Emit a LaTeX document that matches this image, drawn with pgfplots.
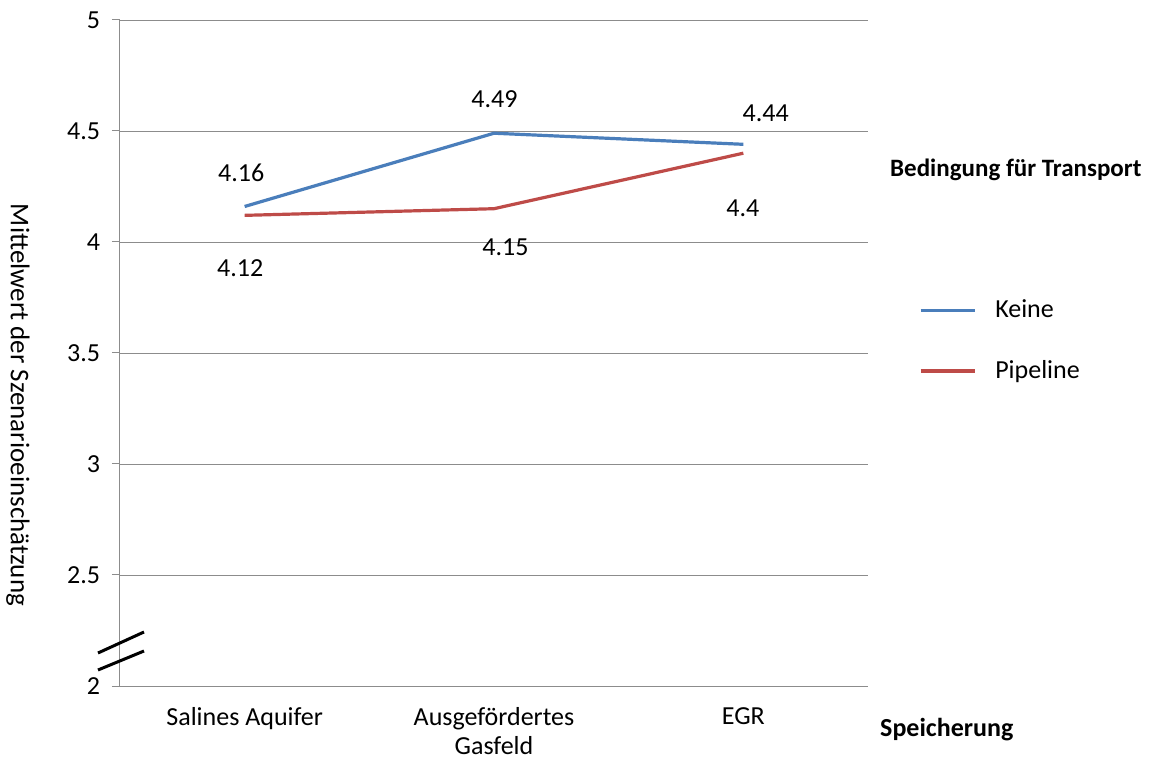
\documentclass[border=0pt]{standalone}
\usepackage{fontspec}
\setmainfont{Carlito}
\usepackage{pgfplots}
\pgfplotsset{compat=1.18}
\definecolor{keine}{RGB}{74,126,187}
\definecolor{pipe}{RGB}{190,75,72}
\definecolor{gridc}{RGB}{140,140,140}
\begin{document}
\begin{tikzpicture}
\fontsize{26}{30}\selectfont
\begin{axis}[
    at={(0,0)}, anchor=south west,
    scale only axis, width=748pt, height=666pt,
    xmin=0, xmax=3, ymin=2, ymax=5,
    axis lines=left, axis line style={-, draw=gridc, line width=1pt},
    xtick={0.5,1.5,2.5},
    xticklabels={Salines Aquifer, {Ausgefördertes\\Gasfeld}, EGR},
    xticklabel style={align=center, yshift=-5pt},
    major x tick style={draw=none},
    extra x ticks={0,1,2,3}, extra x tick labels={},
    extra x tick style={major tick length=8pt, major tick style={draw=gridc, line width=1pt}},
    ytick={2,2.5,...,5},
    ymajorgrids, grid style={draw=gridc, line width=0.8pt},
    tick align=outside, major tick length=8pt,
    tick style={draw=gridc, line width=1pt},
    /pgf/number format/assume math mode=true,
    ticklabel style={font=\fontsize{26}{29}\selectfont},
    yticklabel style={xshift=-3pt},
    clip=false,
    legend style={at={(rel axis cs:1.064,0.587)}, anchor=north west, draw=none, fill=none,
        font=\fontsize{26}{30}\selectfont, row sep=35pt, column sep=17pt},
    legend cell align=left,
    legend image code/.code={\draw[#1] (0pt,0pt) -- (54pt,0pt);},
]
\addplot[keine, line width=3.2pt] coordinates {(0.5,4.16) (1.5,4.49) (2.5,4.44)};
\addlegendentry{Keine}
\addplot[pipe, line width=3.2pt] coordinates {(0.5,4.12) (1.5,4.15) (2.5,4.40)};
\addlegendentry{Pipeline}
\node at (axis cs:0.486,4.311) {4.16};
\node at (axis cs:1.502,4.644) {4.49};
\node at (axis cs:2.59,4.581) {4.44};
\node at (axis cs:0.482,3.883) {4.12};
\node at (axis cs:1.546,3.977) {4.15};
\node at (axis cs:2.498,4.153) {4.4};
\end{axis}
\draw[black, line width=3pt] (-22pt,33pt) -- (24pt,54pt);
\draw[black, line width=3pt] (-22pt,16pt) -- (24pt,35pt);
\node[font=\bfseries\fontsize{25}{30}\selectfont, anchor=west, inner sep=0pt] at (770pt,516pt) {Bedingung für Transport};
\node[font=\bfseries, anchor=west, inner sep=0pt] at (760pt,-44pt) {Speicherung};
\node[rotate=-90, font=\fontsize{27}{30}\selectfont] at (-102pt,281pt) {Mittelwert der Szenarioeinschätzung};
\pgfresetboundingbox
\useasboundingbox (-120pt,-74pt) rectangle (1036pt,686pt);
\end{tikzpicture}
\end{document}
